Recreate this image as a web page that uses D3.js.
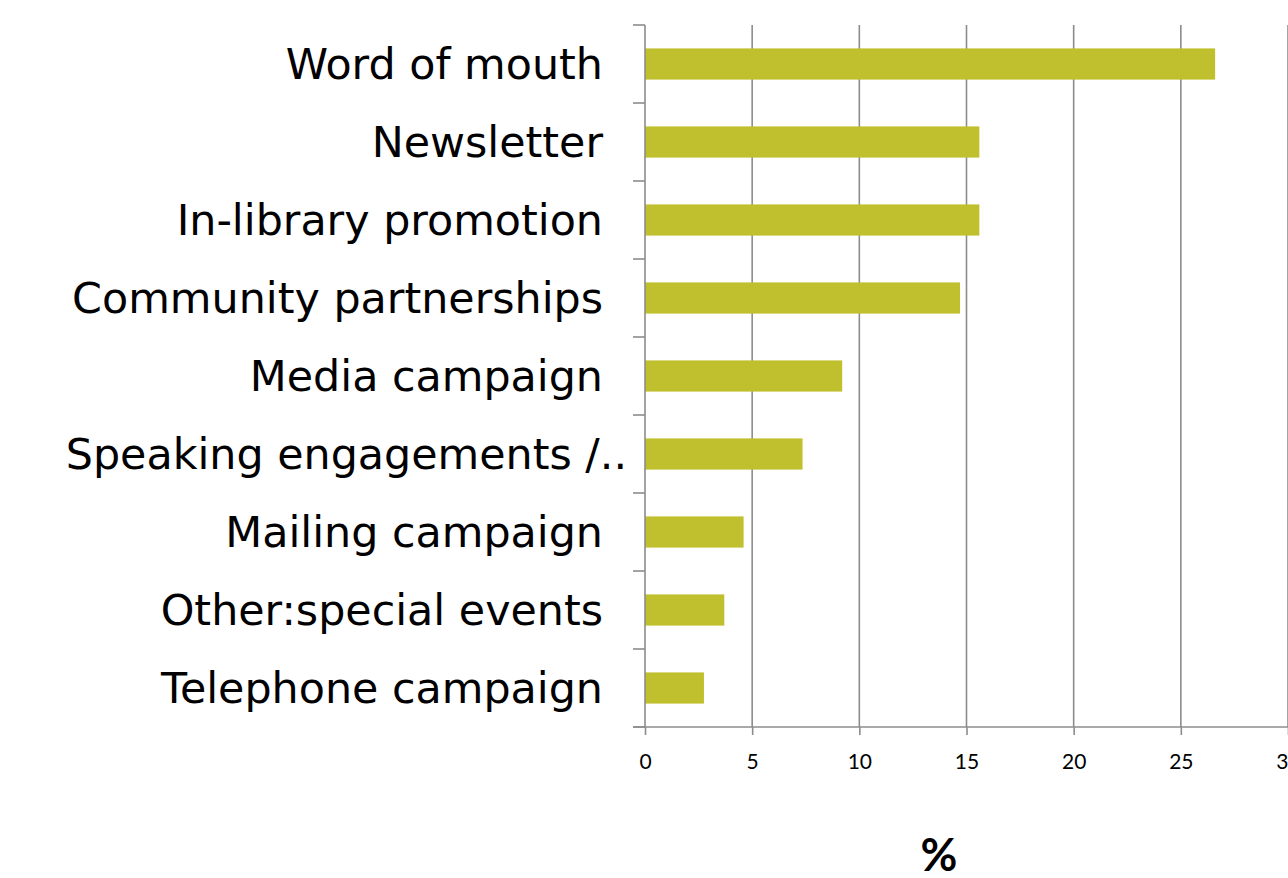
<!DOCTYPE html>
<html>
<head>
<meta charset="utf-8">
<script src="https://cdn.jsdelivr.net/npm/d3@7"></script>
<style>
  html, body { margin: 0; padding: 0; background: #fff; overflow: hidden; }
</style>
</head>
<body>
<div id="chart"></div>
<script>
const categories = [
  'Word of mouth',
  'Newsletter',
  'In-library promotion',
  'Community partnerships',
  'Media campaign',
  'Speaking engagements /..',
  'Mailing campaign',
  'Other:special events',
  'Telephone campaign'
];
const values = [26.6, 15.6, 15.6, 14.7, 9.2, 7.35, 4.6, 3.7, 2.75];
const xTicks = [0, 5, 10, 15, 20, 25, 30];
const axisTitle = '%';

const width = 1288, height = 878;
const margin = { top: 25, right: 0, bottom: 151, left: 645 };

const svg = d3.select('#chart').append('svg')
  .attr('width', width)
  .attr('height', height);

const x = d3.scaleLinear()
  .domain([0, 30])
  .range([margin.left, width - margin.right]);

const y = d3.scaleBand()
  .domain(categories)
  .range([margin.top, height - margin.bottom])
  .paddingInner(0.6)
  .paddingOuter(0.3);

const axisColor = '#8c8c8c';

// vertical gridlines
svg.append('g')
  .selectAll('line')
  .data(xTicks.slice(1))
  .enter().append('line')
  .attr('x1', d => x(d))
  .attr('x2', d => x(d))
  .attr('y1', margin.top)
  .attr('y2', height - margin.bottom)
  .attr('stroke', axisColor)
  .attr('stroke-width', 1.6);

// bars
svg.append('g')
  .selectAll('rect')
  .data(categories)
  .enter().append('rect')
  .attr('x', x(0))
  .attr('y', d => y(d))
  .attr('width', (d, i) => x(values[i]) - x(0))
  .attr('height', y.bandwidth())
  .attr('fill', '#c0c02e');

// y axis: line plus ticks between categories
const yAxis = svg.append('g');
yAxis.append('line')
  .attr('x1', x(0)).attr('x2', x(0))
  .attr('y1', margin.top).attr('y2', height - margin.bottom)
  .attr('stroke', axisColor).attr('stroke-width', 1.6);
const step = y.step();
const yTickPos = d3.range(categories.length + 1).map(i => margin.top + i * step);
yAxis.selectAll('.ytick')
  .data(yTickPos)
  .enter().append('line')
  .attr('class', 'ytick')
  .attr('x1', x(0) - 12).attr('x2', x(0))
  .attr('y1', d => d).attr('y2', d => d)
  .attr('stroke', axisColor).attr('stroke-width', 1.6);

yAxis.selectAll('.ylabel')
  .data(categories)
  .enter().append('text')
  .attr('class', 'ylabel')
  .attr('x', d => d.endsWith('..') ? x(0) - 18 : x(0) - 42)
  .attr('y', d => y(d) + y.bandwidth() / 2)
  .attr('dy', '0.36em')
  .attr('text-anchor', 'end')
  .style('font-family', '"DejaVu Sans", Verdana, sans-serif')
  .style('font-size', '42.8px')
  .style('fill', '#000')
  .text(d => d);

// x axis
const xAxis = svg.append('g')
  .attr('transform', `translate(0,${height - margin.bottom})`)
  .call(d3.axisBottom(x).tickValues(xTicks).tickSize(8).tickPadding(19).tickSizeOuter(0));
xAxis.select('.domain')
  .attr('d', `M${x(0) - 12},0H${width}`)
  .attr('stroke', axisColor).attr('stroke-width', 1.6);
xAxis.selectAll('.tick line')
  .attr('stroke', axisColor).attr('stroke-width', 1.6);
xAxis.selectAll('.tick text')
  .style('font-family', 'Lato, "Open Sans", sans-serif')
  .style('font-size', '21px')
  .style('fill', '#000');

svg.append('text')
  .attr('x', 939)
  .attr('y', 871)
  .attr('text-anchor', 'middle')
  .style('font-family', 'Lato, "Open Sans", sans-serif')
  .style('font-weight', 'bold')
  .style('font-size', '45px')
  .text(axisTitle);
</script>
</body>
</html>
